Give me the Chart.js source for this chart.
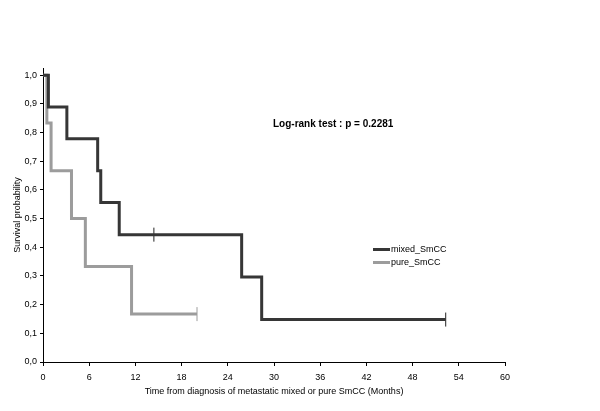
<!DOCTYPE html>
<html>
<head>
<meta charset="utf-8">
<script src="https://cdn.jsdelivr.net/npm/chart.js@4/dist/chart.umd.min.js"></script>
<style>
  html, body { margin: 0; padding: 0; background: #fff; }
  #wrap { width: 600px; height: 411px; }
</style>
</head>
<body>
<div id="wrap"><canvas id="km"></canvas></div>
<script>
// 生存曲線資料 (月, 存活率)
const mixedTimes = [0, 0.7, 3.1, 7.1, 7.5, 9.9, 25.8, 28.4, 52.3];
const mixedSurv = [1.0, 0.889, 0.778, 0.667, 0.556, 0.444, 0.296, 0.148, 0.148];
const mixedCensorTimes = [14.4, 52.3];
const mixedCensorSurv = [0.444, 0.148];

const pureTimes = [0, 0.5, 1.05, 3.7, 5.5, 11.5, 20.0];
const pureSurv = [1.0, 0.833, 0.667, 0.5, 0.333, 0.167, 0.167];
const pureCensorTimes = [20.0];
const pureCensorSurv = [0.167];

const seriesNames = ['mixed_SmCC', 'pure_SmCC'];
const xTicks = [0, 6, 12, 18, 24, 30, 36, 42, 48, 54, 60];
const yTicks = [0, 0.1, 0.2, 0.3, 0.4, 0.5, 0.6, 0.7, 0.8, 0.9, 1.0];

const darkColor = '#363636';
const greyColor = '#9c9c9c';
const fontFamily = '"Liberation Sans", Arial, sans-serif';

const toPoints = (xs, ys) => xs.map((x, i) => ({ x: x, y: ys[i] }));

// 圖例與檢定文字
const overlayPlugin = {
    id: 'overlay',
    afterDraw(chart) {
        const ctx = chart.ctx;
        ctx.save();
        ctx.font = 'bold 10px ' + fontFamily;
        ctx.fillStyle = '#000';
        ctx.textBaseline = 'middle';
        ctx.textAlign = 'left';
        ctx.fillText('Log-rank test : p = 0.2281', 273, 124);

        const items = [
            { label: seriesNames[0], color: darkColor, y: 249.5 },
            { label: seriesNames[1], color: greyColor, y: 262.5 }
        ];
        ctx.font = '9px ' + fontFamily;
        items.forEach(it => {
            ctx.strokeStyle = it.color;
            ctx.lineWidth = 3;
            ctx.beginPath();
            ctx.moveTo(373, it.y);
            ctx.lineTo(390, it.y);
            ctx.stroke();
            ctx.fillStyle = '#000';
            ctx.fillText(it.label, 391, it.y);
        });
        ctx.restore();
    }
};

const ctx = document.getElementById('km').getContext('2d');
new Chart(ctx, {
    type: 'line',
    data: {
        datasets: [
            {
                label: seriesNames[0],
                data: toPoints(mixedTimes, mixedSurv),
                stepped: 'before',
                borderColor: darkColor,
                borderWidth: 3,
                pointRadius: 0,
                fill: false
            },
            {
                label: seriesNames[1],
                data: toPoints(pureTimes, pureSurv),
                stepped: 'before',
                borderColor: greyColor,
                borderWidth: 3,
                pointRadius: 0,
                fill: false
            },
            {
                label: 'mixed censored',
                data: toPoints(mixedCensorTimes, mixedCensorSurv),
                showLine: false,
                pointStyle: 'line',
                rotation: 90,
                pointRadius: 7,
                borderColor: '#222',
                borderWidth: 1
            },
            {
                label: 'pure censored',
                data: toPoints(pureCensorTimes, pureCensorSurv),
                showLine: false,
                pointStyle: 'line',
                rotation: 90,
                pointRadius: 7,
                borderColor: greyColor,
                borderWidth: 1
            }
        ]
    },
    options: {
        responsive: true,
        maintainAspectRatio: false,
        animation: false,
        layout: { padding: { top: 68, right: 95, bottom: 14, left: 0 } },
        plugins: {
            legend: { display: false },
            tooltip: { enabled: false }
        },
        scales: {
            x: {
                type: 'linear',
                min: 0,
                max: 60,
                afterBuildTicks: scale => { scale.ticks = xTicks.map(v => ({ value: v })); },
                afterFit: scale => { scale.height = 35; },
                grid: { drawOnChartArea: false, drawTicks: true, tickLength: 4, color: '#000' },
                border: { color: '#000', width: 1 },
                ticks: {
                    color: '#000',
                    font: { family: fontFamily, size: 9 },
                    padding: 6,
                    maxRotation: 0
                },
                title: {
                    display: true,
                    text: 'Time from diagnosis of metastatic mixed or pure SmCC (Months)',
                    color: '#000',
                    font: { family: fontFamily, size: 9 },
                    padding: { top: 0, bottom: 0 }
                }
            },
            y: {
                min: 0,
                max: 1.025,
                afterBuildTicks: scale => { scale.ticks = yTicks.map(v => ({ value: v })); },
                afterFit: scale => { scale.width = 43; },
                grid: { drawOnChartArea: false, drawTicks: true, tickLength: 3, color: '#000' },
                border: { color: '#000', width: 1 },
                ticks: {
                    color: '#000',
                    font: { family: fontFamily, size: 9 },
                    padding: 3,
                    callback: v => v.toFixed(1).replace('.', ',')
                },
                title: {
                    display: true,
                    text: 'Survival probability',
                    color: '#000',
                    font: { family: fontFamily, size: 9 },
                    padding: { top: 12, bottom: 0 }
                }
            }
        }
    },
    plugins: [overlayPlugin]
});
</script>
</body>
</html>
